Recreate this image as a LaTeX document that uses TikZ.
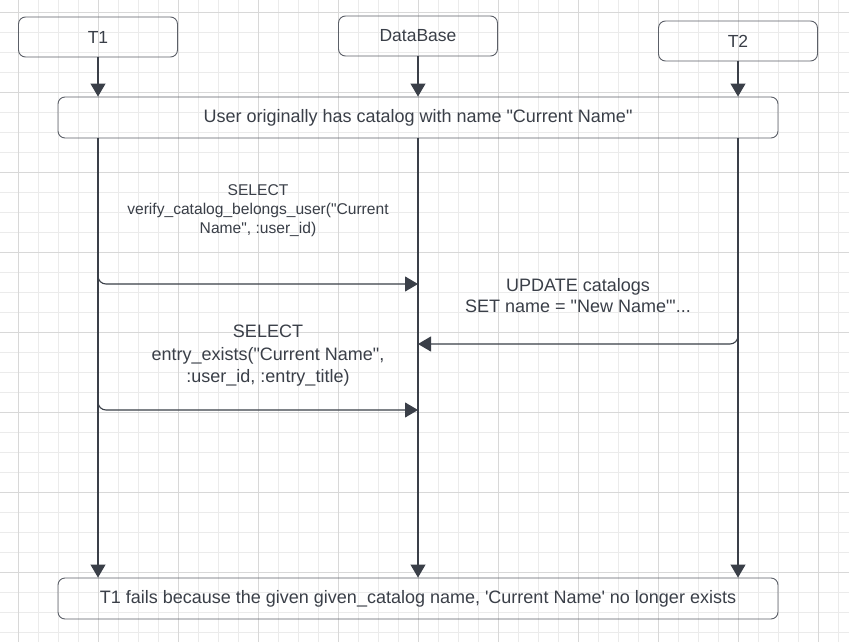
\documentclass[tikz,border=0pt]{standalone}
\usepackage{fontspec}
\setmainfont{Liberation Sans}[Ligatures=TeXOff]
\usetikzlibrary{arrows.meta}
\definecolor{ink}{HTML}{3A3F48}
\definecolor{edge}{HTML}{5C6068}
\definecolor{minorgrid}{HTML}{EBEBEB}
\definecolor{majorgrid}{HTML}{D8D8D8}

\begin{document}
\begin{tikzpicture}[x=1pt,y=-1pt]
 \tikzset{actor/.style = {draw=edge, rounded corners=7pt, line width=0.9pt, minimum width=159pt, minimum height=40pt, inner sep=0pt, text=ink, font=\fontsize{17.5}{20}\selectfont}}
 \tikzset{note/.style = {actor, minimum width=720pt, minimum height=41pt, font=\fontsize{18}{21}\selectfont}}
 \tikzset{life/.style = {draw=ink, line width=1.1pt, -{Triangle[length=13pt,width=15pt]}}}
 \tikzset{msg/.style = {life, rounded corners=8pt}}
 \tikzset{lbl/.style = {text=ink, align=center, inner sep=0pt}}

 \useasboundingbox (0,0) rectangle (849,642);
 \fill[white] (0,0) rectangle (849,642);

 % grid
 \foreach \x in {18,38,...,838} \draw[minorgrid, line width=0.8pt] (\x,0) -- (\x,642);
 \foreach \y in {12,32,...,632} \draw[minorgrid, line width=0.8pt] (0,\y) -- (849,\y);
 \foreach \x in {18,98,...,818} \draw[majorgrid, line width=0.8pt] (\x,0) -- (\x,642);
 \foreach \y in {12,92,...,572} \draw[majorgrid, line width=0.8pt] (0,\y) -- (849,\y);

 % participants
 \node[actor] (t1) at (98,37) {T1};
 \node[actor] (db) at (418,36) {DataBase};
 \node[actor] (t2) at (738,41) {T2};

 \node[note] (start) at (418,117.5) {User originally has catalog with name "Current Name"};
 \node[note] (end) at (418,598.5) {T1 fails because the given given\_catalog name, 'Current Name' no longer exists};

 \draw[life] (t1.south) -- (t1.south |- start.north);
 \draw[life] (db.south) -- (db.south |- start.north);
 \draw[life] (t2.south) -- (t2.south |- start.north);

 \draw[life] (t1.south |- start.south) -- (t1.south |- end.north);
 \draw[life] (db.south |- start.south) -- (db.south |- end.north);
 \draw[life] (t2.south |- start.south) -- (t2.south |- end.north);

 % messages
 \coordinate (m1) at (98,260);
 \coordinate (m1e) at (418,284);
 \coordinate (m2) at (738,320);
 \coordinate (m2e) at (418,344);
 \coordinate (m3) at (98,390);
 \coordinate (m3e) at (418,410);

 \draw[msg] (m1) -- (m1 |- m1e) -- (m1e);
 \draw[msg] (m2) -- (m2 |- m2e) -- (m2e);
 \draw[msg] (m3) -- (m3 |- m3e) -- (m3e);

 \node[lbl, font=\fontsize{15.6}{19}\selectfont] (q1) at (258,211) {SELECT\\verify\_catalog\_belongs\_user("Current\\Name", :user\_id)};
 \node[lbl, font=\fontsize{18}{21}\selectfont] (q2) at (578,296) {UPDATE catalogs\\SET name = "New Name"'...};
 \node[lbl, font=\fontsize{18}{22.5}\selectfont] (q3) at (268,356) {SELECT\\entry\_exists("Current Name",\\:user\_id, :entry\_title)};
\end{tikzpicture}
\end{document}
